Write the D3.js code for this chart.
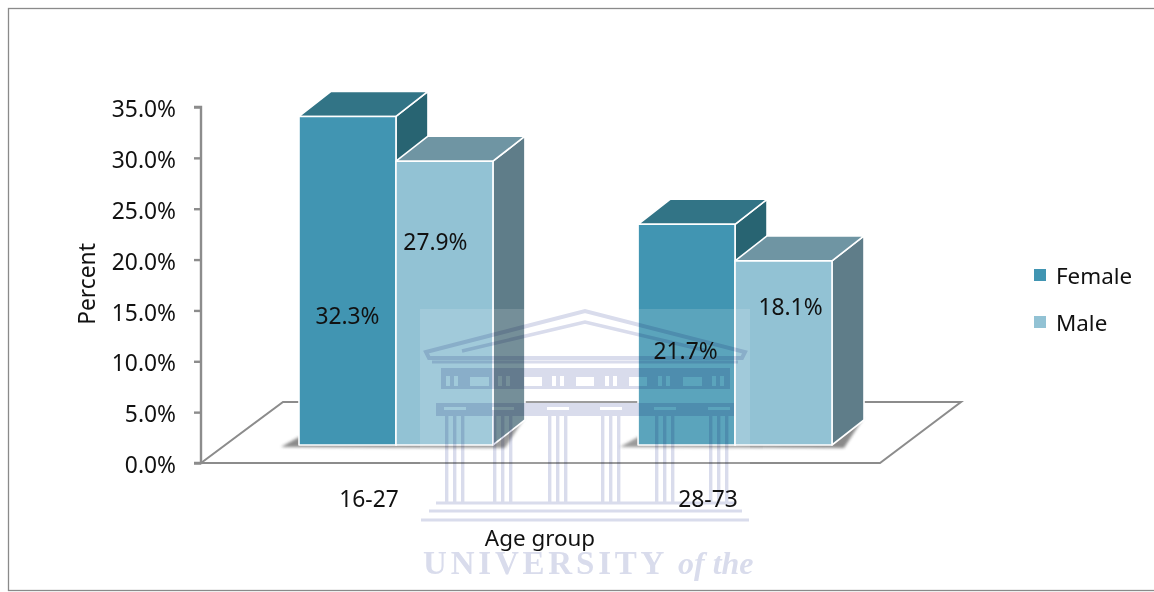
<!DOCTYPE html>
<html><head><meta charset="utf-8">
<script src="https://cdn.jsdelivr.net/npm/d3@7/dist/d3.min.js"></script>
<style>html,body{margin:0;padding:0;background:#fff;overflow:hidden}svg{display:block}text{font-family:"Noto Sans",sans-serif;fill:#111}</style>
</head><body><svg id="c" width="1154" height="592"></svg>
<script>
const categories = ["16-27", "28-73"];
const seriesNames = ["Female", "Male"];
const femaleValues = [32.3, 21.7];
const maleValues = [27.9, 18.1];
const tickValues = [0, 5, 10, 15, 20, 25, 30, 35];
const axisTitleX = "Age group";
const axisTitleY = "Percent";

const faceColors = {Female:"#4195b2", Male:"#92c2d4"};
const topColors = {Female:"#327486", Male:"#6f95a3"};
const sideColors = {Female:"#286472", Male:"#5f7d89"};
const valuesOf = {Female:femaleValues, Male:maleValues};
// layout constants for value labels (fraction of bar height, x nudge)
const labelFrac = {Female:[.395,.43], Male:[.718,.75]};
const labelNudge = {Female:[0,-1], Male:[-9,7]};
const fs = 22.8;

const svg = d3.select("#c");
const defs = svg.append("defs");
const blur = defs.append("filter").attr("id","sh").attr("x","-20%").attr("y","-200%").attr("width","140%").attr("height","500%");
blur.append("feGaussianBlur").attr("stdDeviation",1.6);
const soft = defs.append("filter").attr("id","soft").attr("x","-5%").attr("y","-5%").attr("width","110%").attr("height","110%");
soft.append("feGaussianBlur").attr("stdDeviation",.6);

svg.append("rect").attr("x",8.5).attr("y",8.5).attr("width",1150).attr("height",582)
  .attr("fill","#fff").attr("stroke","#8a8a8a").attr("stroke-width",1.3);

const y = d3.scaleLinear().domain([0,35]).range([463,107]);
const x0 = d3.scaleBand().domain(categories).range([299,832]).paddingInner(.428).paddingOuter(0);
const x1 = d3.scaleBand().domain(seriesNames).range([0,x0.bandwidth()]);
const depthX = 32, depthY = -25, floorLift = 18;

// floor
svg.append("path").attr("d","M201,463 L283,402 L961,402 L880,463 Z")
  .attr("fill","#fff").attr("stroke","#8c8c8c").attr("stroke-width",2);

// axis
const axis = d3.axisLeft(y).tickValues(tickValues).tickFormat(d=>d.toFixed(1)+"%").tickSize(7).tickPadding(18);
const ag = svg.append("g").attr("transform","translate(201,0)").call(axis);
ag.selectAll("path,line").attr("stroke","#8c8c8c").attr("stroke-width",2.4);
ag.select("path").attr("d","M-7,107H0V463H-7");
ag.selectAll("text").attr("font-size",fs).attr("fill","#111").attr("font-family",'"Noto Sans",sans-serif').attr("dy","0.42em");

// bars
categories.forEach((cat,i)=>{
  const g = svg.append("g");
  const base = y(0)-floorLift;
  const gx = x0(cat);
  g.append("path").attr("filter","url(#sh)").attr("fill","#6d6d6d").attr("opacity",.8)
    .attr("d",`M${gx-18},${base+2} L${gx},${base-8} L${gx+x0.bandwidth()},${base-4} L${gx+x0.bandwidth()+32},${base-28} L${gx+x0.bandwidth()+12},${base+3} Z`);
  seriesNames.forEach(s=>{
    const v = valuesOf[s][i];
    const l = gx + x1(s), w = x1.bandwidth();
    const top = base-(y(0)-y(v));
    const bg = g.append("g").attr("stroke","#fff").attr("stroke-width",1.6).attr("stroke-linejoin","round");
    bg.append("path").attr("fill",sideColors[s])
      .attr("d",`M${l+w},${top} l${depthX},${depthY} V${base+depthY} L${l+w},${base} Z`);
    bg.append("path").attr("fill",topColors[s])
      .attr("d",`M${l},${top} l${depthX},${depthY} h${w} l${-depthX},${-depthY} Z`);
    bg.append("rect").attr("x",l).attr("y",top).attr("width",w).attr("height",base-top).attr("fill",faceColors[s]);
  });
});

// watermark
const wm = svg.append("g");
wm.append("rect").attr("x",420).attr("y",309).attr("width",330).attr("height",275).attr("fill","#fff").attr("opacity",.14);
const t = wm.append("g").style("mix-blend-mode","multiply").attr("filter","url(#soft)");
const lav = "#d9dcec";
t.append("path").attr("fill","none").attr("stroke",lav).attr("stroke-width",4)
  .attr("d","M426,352 L585,311 L745,352 L742,358 L429,358 Z");
t.append("path").attr("fill","none").attr("stroke",lav).attr("stroke-width",3.5).attr("d","M462,351 L585,322 L708,351");
t.append("path").attr("fill","none").attr("stroke",lav).attr("stroke-width",3).attr("d","M432,362 H738");
t.append("path").attr("fill",lav).attr("fill-rule","evenodd")
  .attr("d","M441,368 H730 V389 H441 Z M470,377 h19 v9 h-19 Z M524,377 h18 v9 h-18 Z M576,377 h18 v9 h-18 Z M629,377 h18 v9 h-18 Z M683,377 h19 v9 h-19 Z"
    + " M446,376 h4 v10 h-4 Z M454,376 h4 v10 h-4 Z M498,376 h4 v10 h-4 Z M506,376 h4 v10 h-4 Z M552,376 h4 v10 h-4 Z M560,376 h4 v10 h-4 Z M605,376 h4 v10 h-4 Z M613,376 h4 v10 h-4 Z M658,376 h4 v10 h-4 Z M666,376 h4 v10 h-4 Z M712,376 h4 v10 h-4 Z M720,376 h4 v10 h-4 Z");
t.append("rect").attr("x",436).attr("y",403).attr("width",298).attr("height",13).attr("fill",lav);
[447,495,550,603,657,711].forEach(cx=>{
  t.append("rect").attr("x",cx-3).attr("y",407).attr("width",22).attr("height",3).attr("fill","#fff");
  [0,8,16].forEach(o=>t.append("rect").attr("x",cx+o-2).attr("y",416).attr("width",3.4).attr("height",86).attr("fill",lav));
});
t.append("path").attr("fill","none").attr("stroke",lav).attr("stroke-width",3)
  .attr("d","M436,503 H735 M429,511 H742 M421,520 H749");
t.append("text").attr("x",423).attr("y",574).attr("font-size",33).attr("font-weight",700)
  .attr("letter-spacing",3.8).style("font-family",'"Liberation Serif",serif').style("fill",lav).text("UNIVERSITY");
t.append("text").attr("x",678).attr("y",574).attr("font-size",32).attr("font-style","italic").attr("font-weight",700)
  .style("font-family",'"Liberation Serif",serif').style("fill",lav).text("of the");

// value labels
categories.forEach((cat,i)=>{
  seriesNames.forEach(s=>{
    const v = valuesOf[s][i], h = y(0)-y(v), base = y(0)-floorLift;
    svg.append("text").attr("text-anchor","middle").attr("dominant-baseline","central").attr("font-size",fs)
      .attr("x",x0(cat)+x1(s)+x1.bandwidth()/2+labelNudge[s][i])
      .attr("y",base-h*labelFrac[s][i]).text(v.toFixed(1)+"%");
  });
  svg.append("text").attr("text-anchor","middle").attr("dominant-baseline","central").attr("font-size",fs)
    .attr("x",x0(cat)+x0.bandwidth()/2-27).attr("y",498).text(cat);
});

// titles
svg.append("text").attr("text-anchor","middle").attr("dominant-baseline","central").attr("font-size",22.4).attr("x",540).attr("y",537).text(axisTitleX);
svg.append("text").attr("text-anchor","middle").attr("dominant-baseline","central").attr("font-size",fs)
  .attr("transform","translate(86,284) rotate(-90)").text(axisTitleY);

// legend
const lg = d3.scalePoint().domain(seriesNames).range([275,322]);
seriesNames.forEach(s=>{
  svg.append("rect").attr("x",1034).attr("y",lg(s)-6).attr("width",12).attr("height",12).attr("fill",faceColors[s]);
  svg.append("text").attr("x",1056).attr("y",lg(s)).attr("dominant-baseline","central").attr("font-size",22.4).text(s);
});
</script></body></html>
